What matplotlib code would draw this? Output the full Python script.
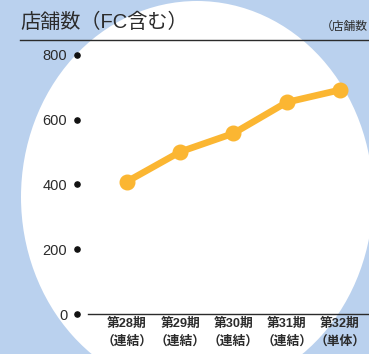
import matplotlib.pyplot as plt
from matplotlib.patches import Ellipse
from matplotlib.lines import Line2D

periods = ["第28期", "第29期", "第30期", "第31期", "第32期"]
scopes = ["（連結）", "（連結）", "（連結）", "（連結）", "（単体）"]
stores = [409, 501, 558, 654, 692]
yticks = [0, 200, 400, 600, 800]

jp = ["Liberation Sans", "Noto Sans CJK JP"]
bg = "#BAD1EE"
ink = "#2b2b2b"
orange = "#FBB632"

W, H = 369, 354
fig = plt.figure(figsize=(W / 100, H / 100), dpi=100, facecolor=bg)

# backdrop: white oval in pixel space
back = fig.add_axes([0, 0, 1, 1])
back.set_xlim(0, W)
back.set_ylim(H, 0)
back.axis("off")
back.set_facecolor(bg)
back.add_patch(Ellipse((197, 197), 352, 392, facecolor="white", edgecolor="none"))
back.add_line(Line2D([20, W], [40, 40], color=ink, lw=1.0))
back.text(20, 22, "店舗数（FC含む）", fontsize=14.5, family=jp, color=ink,
          ha="left", va="center")
back.text(368, 27, "（店舗数", fontsize=8.5, family=jp, color=ink,
          ha="right", va="center")

left, bottom, top = 77, 314, 40
ax = fig.add_axes([left / W, (H - bottom) / H, (W - left) / W, (bottom - top) / H])
ax.set_facecolor("none")
ax.set_xlim(-0.939, 4.545)
ax.set_ylim(0, 846.3)

x = list(range(len(stores)))
ax.plot(x, stores, color=orange, lw=4.8, marker="o", ms=10.5,
        solid_capstyle="round", clip_on=False, zorder=3)

for s in ["top", "right", "left"]:
    ax.spines[s].set_visible(False)
ax.spines["bottom"].set_bounds(-0.732, 4.545)
ax.spines["bottom"].set_color(ink)
ax.spines["bottom"].set_linewidth(1.0)

ax.set_yticks(yticks)
ax.set_yticklabels([str(v) for v in yticks], family=jp, fontsize=10.5, color=ink)
ax.tick_params(axis="y", length=0, pad=7)
ax.scatter([0] * len(yticks), yticks, s=14, color="#111111",
           transform=ax.get_yaxis_transform(), clip_on=False, zorder=4)

ax.set_xticks(x)
ax.set_xticklabels([p + "\n" + s for p, s in zip(periods, scopes)],
                   family=jp, fontsize=9.2, fontweight="bold", color=ink,
                   linespacing=1.55)
ax.tick_params(axis="x", length=0, pad=3)

fig.savefig("out.png", dpi=100, facecolor=bg)
